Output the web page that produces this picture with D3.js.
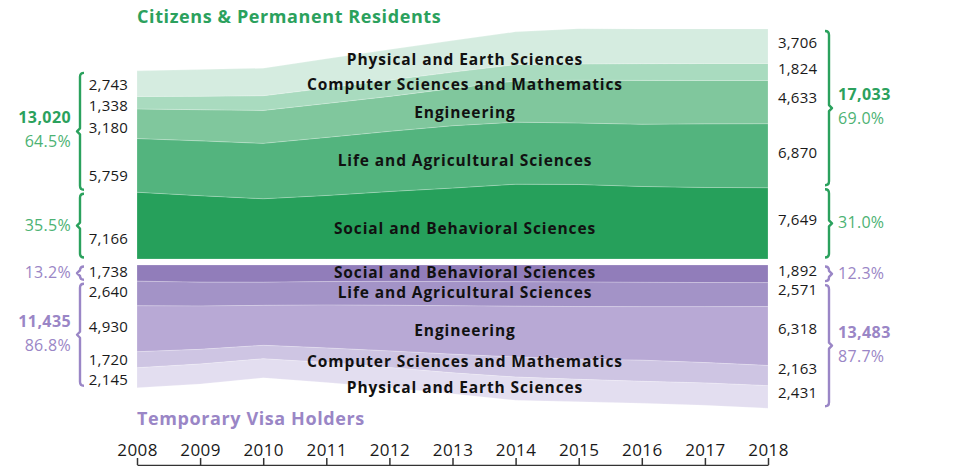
<!DOCTYPE html>
<html>
<head>
<meta charset="utf-8">
<script src="https://cdn.jsdelivr.net/npm/d3@7"></script>
<style>
  body { margin: 0; background: #fff; }
  svg text { font-family: "Open Sans", sans-serif; }
</style>
</head>
<body>
<svg id="chart" width="953" height="466"></svg>
<script>
// data, doctorates by field
const years = [2008, 2009, 2010, 2011, 2012, 2013, 2014, 2015, 2016, 2017, 2018];
const fields = ["Social and Behavioral Sciences", "Life and Agricultural Sciences", "Engineering",
  "Computer Sciences and Mathematics", "Physical and Earth Sciences"];

// citizens & permanent residents
const citSocial = [7166, 6797, 6466, 6818, 7240, 7613, 8028, 7997, 7783, 7676, 7649];
const citLife = [5759, 5881, 5941, 6231, 6459, 6689, 6658, 6595, 6680, 6827, 6870];
const citEng = [3180, 3342, 3535, 3640, 3750, 4000, 4420, 4590, 4700, 4650, 4633];
const citCS = [1338, 1440, 1575, 1650, 1750, 1750, 1750, 1750, 1800, 1820, 1824];
const citPhys = [2743, 2870, 2953, 3140, 3270, 3380, 3520, 3780, 3720, 3710, 3706];

// temporary visa holders
const visSocial = [1738, 1840, 1850, 1780, 1760, 1770, 1800, 1830, 1860, 1880, 1892];
const visLife = [2640, 2560, 2480, 2520, 2560, 2600, 2620, 2630, 2610, 2590, 2571];
const visEng = [4930, 4650, 4290, 4600, 4900, 5200, 5450, 5650, 5740, 6000, 6318];
const visCS = [1720, 1570, 1440, 1560, 1790, 2000, 2150, 2160, 2270, 2180, 2163];
const visPhys = [2145, 2150, 2050, 2150, 2150, 2250, 2500, 2400, 2350, 2400, 2431];

const citColors = ["#26a05b", "#53b47e", "#80c79d", "#a9dbbf", "#d5ece0"];
const visColors = ["#917dba", "#a393c7", "#b8a9d5", "#cec5e3", "#e3def0"];
const green = "#2ba15d", greenLight = "#4cb273";
const purple = "#9a86c6";

// label nudges (px, from layer centre to text baseline)
const citLeftNudge = [18, 16, 9, 8, 6];
const citRightNudge = [2, 2.5, 0.5, 2, 2];
const citInNudge = [11, 10, 12, 11, 10.5];
const visLeftNudge = [3.5, 3, 3, 5, 7];
const visRightNudge = [2, 0.5, -2.5, -1.5, 0.7];
const visInNudge = [4.5, 4.5, 5.5, 2.5, 8.5];

const svg = d3.select("#chart");
const fmt = d3.format(",");
const pct = d3.format(".1%");

const x = d3.scaleLinear().domain([2008, 2018]).range([137, 768]);
const yC = d3.scaleLinear().domain([0, 25000]).range([259, 26]);
const yV = d3.scaleLinear().domain([0, 25000]).range([265, 498]);

function rows(series) {
  return years.map((yr, i) => {
    const r = { year: yr };
    fields.forEach((f, j) => r[f] = series[j][i]);
    return r;
  });
}
const citStack = d3.stack().keys(fields)(rows([citSocial, citLife, citEng, citCS, citPhys]));
const visStack = d3.stack().keys(fields)(rows([visSocial, visLife, visEng, visCS, visPhys]));

function drawLayers(stack, y, colors) {
  const area = d3.area()
    .x(d => x(d.data.year))
    .y0(d => y(d[0]))
    .y1(d => y(d[1]));
  svg.append("g").selectAll("path")
    .data(stack)
    .join("path")
    .attr("d", area)
    .attr("fill", (d, i) => colors[i])
    .attr("stroke", "#fff")
    .attr("stroke-opacity", 0.25)
    .attr("stroke-width", 0.8);
}
drawLayers(citStack, yC, citColors);
drawLayers(visStack, yV, visColors);

const mid = (layer, i, y) => (y(layer[i][0]) + y(layer[i][1])) / 2;
const labelYear = 2013.2;
function midAt(layer, y) {
  const t = labelYear - 2013;
  return mid(layer, 5, y) * (1 - t) + mid(layer, 6, y) * t;
}

// value labels at both ends
function endLabels(stack, y, i, xPos, anchor, nudge) {
  svg.append("g").selectAll("text")
    .data(stack)
    .join("text")
    .attr("x", xPos)
    .attr("y", (d, j) => mid(d, i, y) + nudge[j])
    .attr("text-anchor", anchor)
    .attr("font-size", 15)
    .attr("letter-spacing", 0.2)
    .attr("fill", "#1a1a1a")
    .text(d => fmt(d[i][1] - d[i][0]));
}
endLabels(citStack, yC, 0, 128, "end", citLeftNudge);
endLabels(citStack, yC, 10, 778, "start", citRightNudge);
endLabels(visStack, yV, 0, 128, "end", visLeftNudge);
endLabels(visStack, yV, 10, 778, "start", visRightNudge);

// field names inside the areas
function fieldLabels(stack, y, nudge) {
  svg.append("g").selectAll("text")
    .data(stack)
    .join("text")
    .attr("x", 465)
    .attr("y", (d, j) => midAt(d, y) + nudge[j])
    .attr("text-anchor", "middle")
    .attr("font-size", 15.5)
    .attr("letter-spacing", 0.9)
    .attr("font-weight", 700)
    .attr("fill", "#111")
    .text(d => d.key);
}
fieldLabels(citStack, yC, citInNudge);
fieldLabels(visStack, yV, visInNudge);

// braces
function brace(xPos, y0, y1, dir, color) {
  // dir: 1 = tips point right (left side brace), -1 = tips point left
  const ym = (y0 + y1) / 2, t = 4 * dir, p = -3 * dir;
  const d = `M${xPos + t},${y0} Q${xPos},${y0} ${xPos},${y0 + 4} L${xPos},${ym - 3} L${xPos + p},${ym} ` +
    `L${xPos},${ym + 3} L${xPos},${y1 - 4} Q${xPos},${y1} ${xPos + t},${y1}`;
  svg.append("path").attr("d", d).attr("fill", "none")
    .attr("stroke", color).attr("stroke-width", 2.4).attr("stroke-linejoin", "round");
  return ym;
}
function braceText(xPos, y, anchor, txt, color, bold) {
  svg.append("text").attr("x", xPos).attr("y", y)
    .attr("text-anchor", anchor).attr("font-size", 16)
    .attr("letter-spacing", bold ? 0.4 : 0.3)
    .attr("font-weight", bold ? 700 : 400)
    .attr("fill", color).text(txt);
}

function sideBraces(stack, y, i, side, color, colorPct, sign) {
  const soc = stack[0][i][1] - stack[0][i][0];
  const total = stack[4][i][1];
  const rest = total - soc;
  const bx = side === "left" ? 80 : 829;
  const dir = side === "left" ? 1 : -1;
  const tx = side === "left" ? 71 : 838;
  const anchor = side === "left" ? "end" : "start";
  // social brace
  const s0 = y(0) + 1.5 * sign, s1 = y(soc) - 1.5 * sign;
  const sm = brace(bx, Math.min(s0, s1), Math.max(s0, s1), dir, color);
  braceText(tx, sm + 5, anchor, pct(soc / total), colorPct, false);
  // other fields brace
  const r0 = y(soc) + 2.5 * sign, r1 = y(total) - 2 * sign;
  const rm = brace(bx, Math.min(r0, r1), Math.max(r0, r1), dir, color);
  braceText(tx, rm - 8, anchor, fmt(rest), color, true);
  braceText(tx, rm + 16, anchor, pct(rest / total), colorPct, false);
}
sideBraces(citStack, yC, 0, "left", green, greenLight, -1);
sideBraces(citStack, yC, 10, "right", green, greenLight, -1);
sideBraces(visStack, yV, 0, "left", purple, purple, 1);
sideBraces(visStack, yV, 10, "right", purple, purple, 1);

// titles
svg.append("text").attr("x", 137).attr("y", 23)
  .attr("font-size", 18).attr("letter-spacing", 0.6).attr("font-weight", 700).attr("fill", green)
  .text("Citizens & Permanent Residents");
svg.append("text").attr("x", 137).attr("y", 425)
  .attr("font-size", 18).attr("letter-spacing", 0.6).attr("font-weight", 700).attr("fill", purple)
  .text("Temporary Visa Holders");

// year axis
const axis = svg.append("g")
  .attr("transform", "translate(0,465)")
  .call(d3.axisTop(x).tickValues(years).tickFormat(d3.format("d")).tickSize(7).tickSizeOuter(0).tickPadding(2));
axis.select(".domain").attr("stroke", "#333").attr("stroke-width", 1.5);
axis.selectAll(".tick line").attr("stroke", "#333").attr("stroke-width", 1.5);
axis.selectAll(".tick text").attr("font-size", 17).attr("letter-spacing", 0.4).attr("fill", "#1a1a1a")
  .attr("font-family", "Open Sans, sans-serif");
</script>
</body>
</html>
